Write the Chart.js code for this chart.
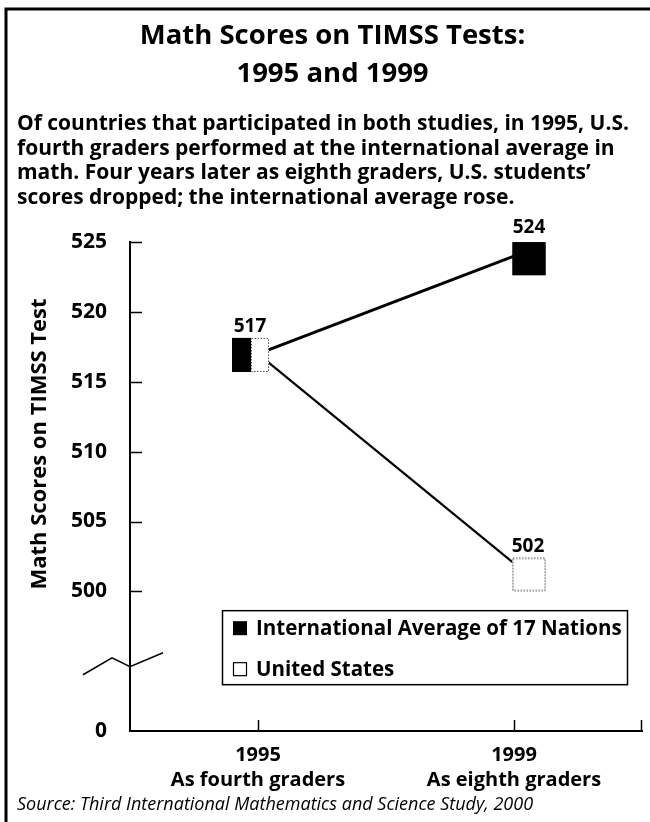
<!DOCTYPE html>
<html>
<head>
<meta charset="utf-8">
<script src="https://cdn.jsdelivr.net/npm/chart.js@4.4.1/dist/chart.umd.min.js"></script>
<style>
  html, body { margin: 0; padding: 0; background: #fff; }
</style>
</head>
<body>
<canvas id="timssChart" width="650" height="822"></canvas>
<script>
// data
const years = ['1995', '1999'];
const grades = ['As fourth graders', 'As eighth graders'];
const intlScores = [517, 524];
const usScores = [517, 502];
const seriesNames = ['International Average of 17 Nations', 'United States'];
const yTickLabels = ['0', '500', '505', '510', '515', '520', '525'];
const yBreakValue = 490; // "0" sits here, below the broken axis
const yMax = 525;

const FONT = "'Open Sans', sans-serif";

// marker drawn into a small canvas so it can sit off-centre of the point
function boxMarker(dx, dy, w, h, fill, dotted) {
    let W = Math.ceil(2 * Math.max(Math.abs(dx), Math.abs(dx + w))) + 2;
    let H = Math.ceil(2 * Math.max(Math.abs(dy), Math.abs(dy + h))) + 2;
    if (W % 2) W++;
    if (H % 2) H++;
    const c = document.createElement('canvas');
    c.width = W;
    c.height = H;
    const g = c.getContext('2d');
    const x = W / 2 + dx, y = H / 2 + dy;
    g.fillStyle = fill;
    g.fillRect(x, y, w, h);
    if (dotted) {
        g.strokeStyle = '#555';
        g.lineWidth = 1;
        g.setLineDash([1.5, 1.5]);
        g.strokeRect(x + 0.5, y + 0.5, w - 1, h - 1);
    }
    return c;
}

const intlMarkers = [boxMarker(-26, -16, 19, 34, '#000'), boxMarker(-1.5, -14, 33, 33, '#000')];
const usMarkers = [boxMarker(-7, -16, 18, 34, '#fff', true), boxMarker(-1.5, -5.5, 33, 33, '#fff', true)];

// points on top of every line
const pointsOnTop = {
    id: 'pointsOnTop',
    afterDatasetsDraw(chart) {
        const ctx = chart.ctx;
        for (let i = chart.data.datasets.length - 1; i >= 0; i--) {
            chart.getDatasetMeta(i).data.forEach(p => p.draw(ctx, chart.chartArea));
        }
    }
};

const extras = {
    id: 'extras',
    beforeDraw(chart) {
        const ctx = chart.ctx;
        ctx.save();
        ctx.strokeStyle = '#000';
        ctx.lineWidth = 3;
        ctx.beginPath();
        ctx.moveTo(6, 822);
        ctx.lineTo(6, 9);
        ctx.lineTo(650, 9);
        ctx.stroke();
        ctx.restore();
    },
    afterDraw(chart) {
        const ctx = chart.ctx;
        const area = chart.chartArea;
        const xs = chart.scales.x, ys = chart.scales.y;
        ctx.save();
        ctx.strokeStyle = '#000';
        ctx.fillStyle = '#000';

        // inward tick marks
        ctx.lineWidth = 1.5;
        ctx.beginPath();
        yTickLabels.filter(l => l !== '0').forEach(l => {
            const y = Math.round(ys.getPixelForValue(+l)) + 0.5;
            ctx.moveTo(area.left, y);
            ctx.lineTo(area.left + 12, y);
        });
        years.forEach((_, i) => {
            const x = Math.round(xs.getPixelForValue(i)) + 0.5;
            ctx.moveTo(x, area.bottom);
            ctx.lineTo(x, area.bottom - 11);
        });
        ctx.moveTo(area.right - 0.5, area.bottom);
        ctx.lineTo(area.right - 0.5, area.bottom - 11);
        ctx.stroke();

        // axis break
        const by = ys.getPixelForValue(494.6);
        ctx.lineWidth = 1.5;
        ctx.beginPath();
        ctx.moveTo(area.left - 47, by + 8);
        ctx.lineTo(area.left - 18, by - 9);
        ctx.lineTo(area.left, by);
        ctx.lineTo(area.left + 33, by - 14);
        ctx.stroke();

        // y axis title
        ctx.save();
        ctx.translate(40, 444);
        ctx.rotate(-Math.PI / 2);
        ctx.font = "bold 22px " + FONT;
        ctx.textAlign = 'center';
        ctx.textBaseline = 'middle';
        ctx.fillText('Math Scores on TIMSS Test', 0, 0);
        ctx.restore();

        // value labels
        ctx.font = "bold 19px " + FONT;
        ctx.textAlign = 'center';
        ctx.textBaseline = 'middle';
        const offsets = [[[-8, -27], [15, -29]], [null, [14, -17]]];
        [intlScores, usScores].forEach((vals, d) => {
            const meta = chart.getDatasetMeta(d);
            vals.forEach((v, i) => {
                const o = offsets[d][i];
                if (!o) return;
                const p = meta.data[i];
                ctx.fillText(String(v), p.x + o[0], p.y + o[1]);
            });
        });

        // legend box
        const lx = area.left + 92, ly = area.top + 368, lw = 405, lh = 74;
        ctx.fillStyle = '#fff';
        ctx.fillRect(lx, ly, lw, lh);
        ctx.lineWidth = 1.5;
        ctx.strokeRect(lx + 0.5, ly + 0.5, lw, lh);
        ctx.font = "bold 20.5px " + FONT;
        ctx.textAlign = 'left';
        seriesNames.forEach((name, i) => {
            const cy = ly + 18 + i * 41;
            ctx.fillStyle = '#000';
            if (i === 0) {
                ctx.fillRect(lx + 11, cy - 7, 14, 14);
            } else {
                ctx.lineWidth = 1.2;
                ctx.strokeRect(lx + 11.5, cy - 6.5, 13, 13);
            }
            ctx.fillText(name, lx + 34, cy + 1);
        });

        // source
        ctx.font = "italic 18px " + FONT;
        ctx.textBaseline = 'middle';
        ctx.fillText('Source: Third International Mathematics and Science Study, 2000', 17, 805);
        ctx.restore();
    }
};

const ctx = document.getElementById('timssChart').getContext('2d');
new Chart(ctx, {
    type: 'line',
    data: {
        labels: years.map((y, i) => [y, grades[i]]),
        datasets: [
            {
                label: seriesNames[0],
                data: intlScores,
                borderColor: '#000',
                borderWidth: 3,
                pointStyle: intlMarkers,
                pointRadius: 5,
                clip: false
            },
            {
                label: seriesNames[1],
                data: usScores,
                borderColor: '#000',
                borderWidth: 2.2,
                pointStyle: usMarkers,
                pointRadius: 5,
                clip: false
            }
        ]
    },
    options: {
        responsive: false,
        animation: false,
        layout: { padding: { left: 17, right: 2, top: 0, bottom: 27 } },
        plugins: {
            legend: { display: false },
            tooltip: { enabled: false },
            title: {
                display: true,
                text: ['Math Scores on TIMSS Tests:', '1995 and 1999'],
                color: '#000',
                font: { family: FONT, size: 27.5, weight: 'bold', lineHeight: 1.38 },
                padding: { top: 17, bottom: 19 }
            },
            subtitle: {
                display: true,
                align: 'start',
                text: [
                    'Of countries that participated in both studies, in 1995, U.S.',
                    'fourth graders performed at the international average in',
                    'math. Four years later as eighth graders, U.S. students\u2019',
                    'scores dropped; the international average rose.'
                ],
                color: '#000',
                font: { family: FONT, size: 21, weight: 'bold', lineHeight: 1.17 },
                padding: { top: 0, bottom: 32 }
            }
        },
        scales: {
            x: {
                offset: true,
                grid: { display: false, drawTicks: false },
                border: { display: true, color: '#000', width: 2 },
                ticks: {
                    color: '#000',
                    padding: 11.5,
                    maxRotation: 0,
                    font: { family: FONT, size: 20, weight: 'bold', lineHeight: 1.25 }
                },
                afterFit: s => { s.height = 64; }
            },
            y: {
                min: yBreakValue,
                max: yMax,
                grid: { display: false, drawTicks: false },
                border: { display: true, color: '#000', width: 2 },
                afterBuildTicks: s => {
                    s.ticks = yTickLabels.map(l => ({ value: l === '0' ? yBreakValue : +l }));
                },
                ticks: {
                    color: '#000',
                    padding: 23,
                    font: { family: FONT, size: 21, weight: 'bold' },
                    callback: v => (v === yBreakValue ? '0' : String(v))
                },
                afterFit: s => { s.width = 113; }
            }
        }
    },
    plugins: [pointsOnTop, extras]
});
</script>
</body>
</html>
